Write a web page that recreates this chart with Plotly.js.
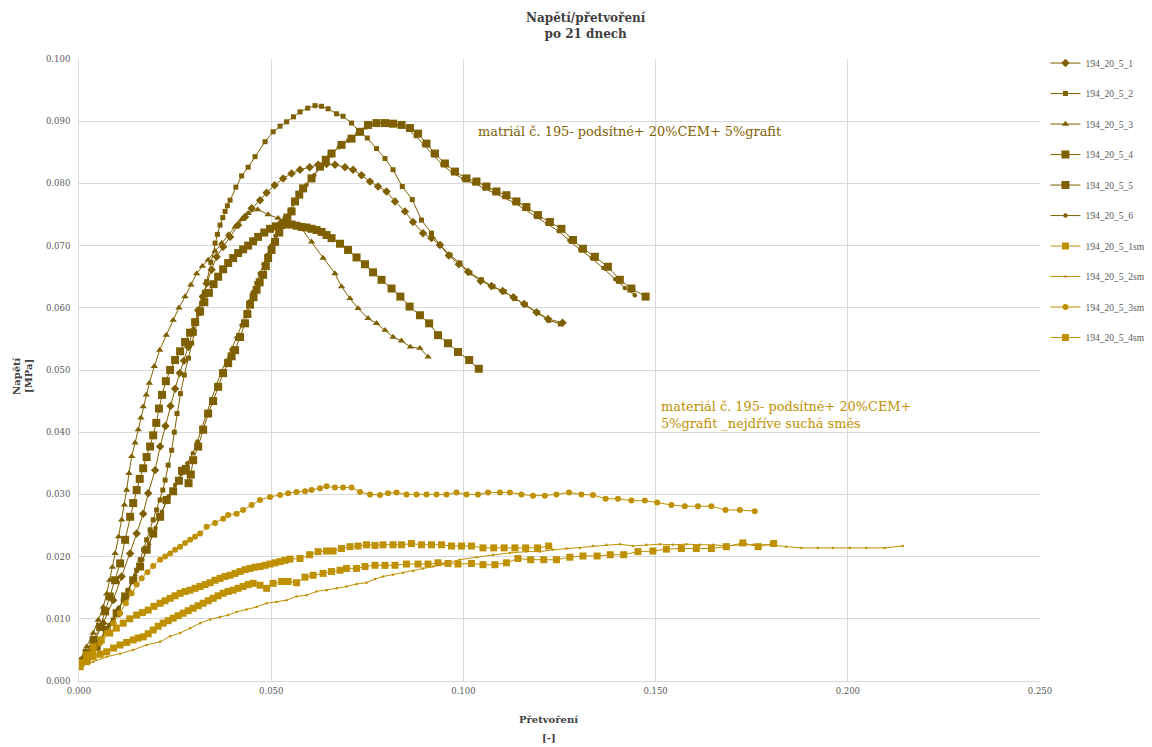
<!DOCTYPE html>
<html>
<head>
<meta charset="utf-8">
<script src="https://cdn.plot.ly/plotly-3.0.1.min.js"></script>
<style>html,body{margin:0;padding:0;background:#fff;}#chart{width:1152px;height:747px;}</style>
</head>
<body>
<div id="chart"></div>
<script>
// ---- data (strain [-], stress [MPa]) ----
const seriesNames = ['194_20_5_1','194_20_5_2','194_20_5_3','194_20_5_4','194_20_5_5','194_20_5_6',
                     '194_20_5_1sm','194_20_5_2sm','194_20_5_3sm','194_20_5_4sm'];

const s1 = [[0.0007,0.0034],[0.0033,0.0055],[0.0063,0.0093],[0.0089,0.0130],[0.0111,0.0168],[0.0133,0.0205],[0.0150,0.0237],[0.0167,0.0269],[0.0180,0.0302],[0.0198,0.0339],
[0.0211,0.0377],[0.0225,0.0410],[0.0238,0.0442],[0.0250,0.0470],[0.0262,0.0495],[0.0273,0.0515],[0.0284,0.0537],[0.0297,0.0564],[0.0310,0.0596],[0.0322,0.0618],
[0.0332,0.0639],[0.0345,0.0661],[0.0358,0.0682],[0.0375,0.0698],[0.0393,0.0714],[0.0414,0.0733],[0.0432,0.0746],[0.0449,0.0760],[0.0471,0.0773],[0.0488,0.0785],
[0.0509,0.0797],[0.0531,0.0808],[0.0553,0.0816],[0.0575,0.0822],[0.0600,0.0826],[0.0622,0.0830],[0.0644,0.0831],[0.0666,0.0830],[0.0692,0.0826],[0.0713,0.0822],
[0.0735,0.0813],[0.0757,0.0803],[0.0778,0.0795],[0.0800,0.0787],[0.0822,0.0771],[0.0848,0.0755],[0.0869,0.0738],[0.0895,0.0720],[0.0917,0.0712],[0.0939,0.0701],
[0.0962,0.0684],[0.0988,0.0670],[0.1012,0.0658],[0.1045,0.0643],[0.1073,0.0635],[0.1102,0.0627],[0.1130,0.0617],[0.1158,0.0606],[0.1190,0.0593],[0.1220,0.0582],
[0.1258,0.0576]];

const s2 = [[0.0003,0.0030],[0.0020,0.0039],[0.0035,0.0052],[0.0055,0.0066],[0.0072,0.0082],[0.0089,0.0098],[0.0102,0.0114],[0.0115,0.0130],[0.0128,0.0146],[0.0141,0.0162],
[0.0150,0.0178],[0.0159,0.0195],[0.0168,0.0211],[0.0176,0.0227],[0.0185,0.0243],[0.0193,0.0259],[0.0202,0.0275],[0.0211,0.0291],[0.0218,0.0307],[0.0224,0.0323],
[0.0232,0.0347],[0.0241,0.0371],[0.0248,0.0400],[0.0255,0.0430],[0.0264,0.0462],[0.0274,0.0492],[0.0285,0.0519],[0.0293,0.0543],[0.0300,0.0559],[0.0306,0.0575],
[0.0313,0.0591],[0.0319,0.0607],[0.0326,0.0625],[0.0332,0.0642],[0.0343,0.0673],[0.0354,0.0704],[0.0360,0.0718],[0.0367,0.0733],[0.0374,0.0745],[0.0380,0.0755],
[0.0386,0.0764],[0.0393,0.0773],[0.0408,0.0794],[0.0423,0.0812],[0.0440,0.0826],[0.0458,0.0843],[0.0484,0.0867],[0.0505,0.0883],[0.0523,0.0892],[0.0540,0.0899],
[0.0558,0.0907],[0.0575,0.0915],[0.0595,0.0921],[0.0614,0.0925],[0.0631,0.0924],[0.0648,0.0920],[0.0670,0.0912],[0.0687,0.0908],[0.0709,0.0897],[0.0730,0.0883],
[0.0750,0.0873],[0.0774,0.0856],[0.0796,0.0840],[0.0817,0.0822],[0.0841,0.0795],[0.0867,0.0774],[0.0891,0.0741],[0.0917,0.0720],[0.0939,0.0701],[0.0965,0.0685],
[0.0991,0.0672],[0.1017,0.0656],[0.1047,0.0645],[0.1077,0.0634],[0.1106,0.0626],[0.1134,0.0615],[0.1161,0.0605],[0.1193,0.0592],[0.1222,0.0580],[0.1252,0.0574]];

const s3 = [[0.0003,0.0034],[0.0020,0.0055],[0.0037,0.0077],[0.0050,0.0098],[0.0063,0.0119],[0.0072,0.0140],[0.0080,0.0162],[0.0087,0.0183],[0.0094,0.0205],[0.0103,0.0232],
[0.0111,0.0259],[0.0118,0.0283],[0.0124,0.0307],[0.0130,0.0334],[0.0137,0.0361],[0.0146,0.0383],[0.0154,0.0404],[0.0161,0.0423],[0.0167,0.0441],[0.0175,0.0460],
[0.0183,0.0479],[0.0196,0.0506],[0.0210,0.0532],[0.0227,0.0556],[0.0245,0.0580],[0.0260,0.0600],[0.0276,0.0618],[0.0291,0.0637],[0.0306,0.0655],[0.0321,0.0667],
[0.0336,0.0677],[0.0354,0.0691],[0.0371,0.0704],[0.0389,0.0718],[0.0406,0.0730],[0.0423,0.0742],[0.0440,0.0752],[0.0465,0.0758],[0.0492,0.0750],[0.0518,0.0744],
[0.0544,0.0738],[0.0579,0.0727],[0.0605,0.0706],[0.0635,0.0680],[0.0666,0.0655],[0.0683,0.0634],[0.0705,0.0615],[0.0726,0.0599],[0.0752,0.0583],[0.0774,0.0575],
[0.0796,0.0564],[0.0817,0.0553],[0.0839,0.0547],[0.0862,0.0537],[0.0887,0.0535],[0.0908,0.0521]];

const s4 = [[0.0003,0.0029],[0.0020,0.0045],[0.0038,0.0066],[0.0055,0.0087],[0.0068,0.0112],[0.0080,0.0136],[0.0094,0.0162],[0.0107,0.0189],[0.0120,0.0227],[0.0133,0.0264],
[0.0141,0.0286],[0.0150,0.0307],[0.0158,0.0325],[0.0167,0.0342],[0.0176,0.0360],[0.0185,0.0377],[0.0193,0.0395],[0.0201,0.0415],[0.0208,0.0438],[0.0216,0.0460],
[0.0226,0.0482],[0.0237,0.0500],[0.0250,0.0516],[0.0263,0.0530],[0.0276,0.0545],[0.0289,0.0560],[0.0302,0.0577],[0.0315,0.0594],[0.0326,0.0609],[0.0338,0.0624],
[0.0350,0.0638],[0.0362,0.0650],[0.0375,0.0662],[0.0388,0.0672],[0.0401,0.0680],[0.0414,0.0688],[0.0427,0.0694],[0.0440,0.0700],[0.0453,0.0707],[0.0466,0.0714],
[0.0482,0.0721],[0.0497,0.0727],[0.0512,0.0731],[0.0527,0.0733],[0.0540,0.0734],[0.0553,0.0734],[0.0566,0.0732],[0.0579,0.0730],[0.0592,0.0729],[0.0605,0.0727],
[0.0618,0.0725],[0.0631,0.0722],[0.0644,0.0717],[0.0657,0.0712],[0.0679,0.0703],[0.0700,0.0693],[0.0722,0.0681],[0.0744,0.0670],[0.0765,0.0657],[0.0787,0.0645],
[0.0813,0.0631],[0.0836,0.0618],[0.0860,0.0602],[0.0887,0.0588],[0.0911,0.0575],[0.0934,0.0556],[0.0960,0.0543],[0.0986,0.0529],[0.1015,0.0516],[0.1040,0.0502]];

const s5 = [[0.0003,0.0030],[0.0020,0.0034],[0.0046,0.0055],[0.0072,0.0082],[0.0098,0.0109],[0.0120,0.0136],[0.0141,0.0162],[0.0159,0.0184],[0.0176,0.0211],[0.0193,0.0237],
[0.0211,0.0264],[0.0228,0.0291],[0.0245,0.0305],[0.0260,0.0322],[0.0268,0.0338],[0.0278,0.0341],[0.0285,0.0318],[0.0291,0.0332],[0.0297,0.0355],[0.0310,0.0377],
[0.0323,0.0404],[0.0336,0.0430],[0.0349,0.0450],[0.0362,0.0473],[0.0375,0.0495],[0.0388,0.0511],[0.0397,0.0522],[0.0406,0.0532],[0.0419,0.0553],[0.0432,0.0575],
[0.0438,0.0590],[0.0445,0.0605],[0.0454,0.0617],[0.0462,0.0629],[0.0470,0.0641],[0.0479,0.0653],[0.0486,0.0667],[0.0492,0.0680],[0.0501,0.0693],[0.0510,0.0706],
[0.0521,0.0721],[0.0531,0.0736],[0.0542,0.0745],[0.0553,0.0755],[0.0562,0.0771],[0.0573,0.0782],[0.0583,0.0792],[0.0605,0.0808],[0.0627,0.0827],[0.0642,0.0838],
[0.0657,0.0848],[0.0683,0.0862],[0.0709,0.0872],[0.0731,0.0883],[0.0752,0.0894],[0.0774,0.0897],[0.0796,0.0897],[0.0817,0.0896],[0.0839,0.0894],[0.0861,0.0889],
[0.0882,0.0880],[0.0904,0.0864],[0.0926,0.0848],[0.0952,0.0832],[0.0978,0.0819],[0.1008,0.0808],[0.1034,0.0803],[0.1060,0.0795],[0.1086,0.0787],[0.1112,0.0781],
[0.1138,0.0771],[0.1164,0.0762],[0.1194,0.0749],[0.1225,0.0738],[0.1255,0.0727],[0.1285,0.0709],[0.1311,0.0695],[0.1342,0.0682],[0.1376,0.0666],[0.1407,0.0645],
[0.1437,0.0631],[0.1474,0.0618]];

const s6 = [[0.0003,0.0031],[0.0025,0.0040],[0.0050,0.0062],[0.0078,0.0090],[0.0104,0.0118],[0.0126,0.0145],[0.0146,0.0170],[0.0165,0.0195],[0.0182,0.0220],[0.0199,0.0246],
[0.0216,0.0272],[0.0233,0.0297],[0.0250,0.0315],[0.0266,0.0333],[0.0282,0.0350],[0.0296,0.0366],[0.0308,0.0385],[0.0319,0.0407],[0.0331,0.0428],[0.0344,0.0452],
[0.0357,0.0476],[0.0370,0.0497],[0.0383,0.0515],[0.0397,0.0533],[0.0410,0.0552],[0.0423,0.0572],[0.0434,0.0592],[0.0443,0.0610],[0.0452,0.0625],[0.0461,0.0640],
[0.0470,0.0655],[0.0480,0.0670],[0.0490,0.0685],[0.0500,0.0700],[0.0511,0.0716],[0.0522,0.0731],[0.0535,0.0744],[0.0548,0.0757],[0.0560,0.0770],[0.0575,0.0785],
[0.0592,0.0798],[0.0612,0.0813],[0.0632,0.0830],[0.0652,0.0845],[0.0676,0.0858],[0.0700,0.0869],[0.0724,0.0880],[0.0746,0.0890],[0.0768,0.0895],[0.0790,0.0897],
[0.0812,0.0896],[0.0834,0.0893],[0.0856,0.0887],[0.0876,0.0876],[0.0897,0.0862],[0.0920,0.0846],[0.0945,0.0830],[0.0972,0.0817],[0.1000,0.0807],[0.1028,0.0800],
[0.1055,0.0792],[0.1080,0.0785],[0.1106,0.0778],[0.1132,0.0769],[0.1158,0.0759],[0.1188,0.0747],[0.1218,0.0735],[0.1248,0.0723],[0.1276,0.0708],[0.1304,0.0693],
[0.1334,0.0680],[0.1364,0.0664],[0.1395,0.0646],[0.1420,0.0632],[0.1446,0.0620]];

const sm1 = [[0.0003,0.0029],[0.0020,0.0042],[0.0037,0.0055],[0.0058,0.0066],[0.0080,0.0077],[0.0097,0.0085],[0.0115,0.0093],[0.0132,0.0100],[0.0150,0.0106],[0.0165,0.0110],
[0.0180,0.0114],[0.0195,0.0120],[0.0211,0.0125],[0.0224,0.0129],[0.0237,0.0133],[0.0250,0.0137],[0.0263,0.0141],[0.0276,0.0144],[0.0289,0.0146],[0.0302,0.0149],
[0.0315,0.0152],[0.0328,0.0155],[0.0341,0.0158],[0.0354,0.0162],[0.0367,0.0165],[0.0380,0.0168],[0.0393,0.0170],[0.0406,0.0173],[0.0419,0.0176],[0.0432,0.0179],
[0.0445,0.0181],[0.0458,0.0183],[0.0471,0.0184],[0.0484,0.0186],[0.0497,0.0188],[0.0510,0.0190],[0.0523,0.0192],[0.0536,0.0194],[0.0549,0.0196],[0.0575,0.0197],
[0.0600,0.0203],[0.0622,0.0208],[0.0644,0.0209],[0.0661,0.0209],[0.0683,0.0213],[0.0705,0.0216],[0.0726,0.0217],[0.0748,0.0219],[0.0770,0.0218],[0.0791,0.0219],
[0.0817,0.0219],[0.0839,0.0219],[0.0865,0.0221],[0.0891,0.0219],[0.0917,0.0219],[0.0943,0.0219],[0.0969,0.0217],[0.0995,0.0217],[0.1021,0.0217],[0.1051,0.0214],
[0.1079,0.0214],[0.1106,0.0214],[0.1134,0.0214],[0.1162,0.0214],[0.1193,0.0214],[0.1222,0.0217]];

const sm2 = [[0.0003,0.0023],[0.0037,0.0031],[0.0072,0.0039],[0.0107,0.0044],[0.0141,0.0050],[0.0176,0.0058],[0.0211,0.0063],[0.0237,0.0072],[0.0263,0.0077],[0.0289,0.0085],
[0.0315,0.0093],[0.0341,0.0099],[0.0367,0.0103],[0.0388,0.0106],[0.0410,0.0111],[0.0436,0.0115],[0.0462,0.0119],[0.0488,0.0125],[0.0514,0.0127],[0.0540,0.0130],
[0.0566,0.0136],[0.0592,0.0138],[0.0618,0.0144],[0.0644,0.0146],[0.0670,0.0149],[0.0696,0.0152],[0.0722,0.0156],[0.0748,0.0158],[0.0770,0.0164],[0.0791,0.0168],
[0.0817,0.0171],[0.0843,0.0174],[0.0869,0.0177],[0.0895,0.0181],[0.0921,0.0184],[0.0947,0.0188],[0.0990,0.0195],[0.1034,0.0199],[0.1077,0.0203],[0.1121,0.0206],
[0.1164,0.0208],[0.1199,0.0208],[0.1233,0.0211],[0.1268,0.0213],[0.1303,0.0214],[0.1337,0.0217],[0.1372,0.0219],[0.1407,0.0220],[0.1441,0.0217],[0.1476,0.0219],
[0.1511,0.0220],[0.1545,0.0219],[0.1580,0.0220],[0.1615,0.0219],[0.1650,0.0219],[0.1684,0.0217],[0.1719,0.0219],[0.1754,0.0219],[0.1797,0.0219],[0.1840,0.0216],
[0.1879,0.0214],[0.1922,0.0214],[0.1961,0.0214],[0.2005,0.0214],[0.2048,0.0214],[0.2096,0.0214],[0.2143,0.0217]];

const sm3 = [[0.0003,0.0030],[0.0020,0.0037],[0.0037,0.0045],[0.0055,0.0061],[0.0072,0.0077],[0.0090,0.0093],[0.0107,0.0109],[0.0122,0.0125],[0.0137,0.0141],[0.0150,0.0155],
[0.0163,0.0165],[0.0178,0.0175],[0.0193,0.0185],[0.0211,0.0195],[0.0224,0.0200],[0.0237,0.0205],[0.0250,0.0211],[0.0263,0.0216],[0.0276,0.0222],[0.0289,0.0227],
[0.0302,0.0232],[0.0315,0.0237],[0.0332,0.0248],[0.0354,0.0254],[0.0375,0.0261],[0.0388,0.0267],[0.0410,0.0269],[0.0427,0.0275],[0.0449,0.0283],[0.0471,0.0291],
[0.0497,0.0296],[0.0523,0.0299],[0.0544,0.0302],[0.0566,0.0304],[0.0588,0.0305],[0.0605,0.0307],[0.0627,0.0310],[0.0644,0.0313],[0.0666,0.0311],[0.0687,0.0311],
[0.0709,0.0311],[0.0731,0.0304],[0.0757,0.0300],[0.0783,0.0299],[0.0804,0.0302],[0.0826,0.0303],[0.0852,0.0300],[0.0878,0.0300],[0.0904,0.0300],[0.0930,0.0300],
[0.0956,0.0300],[0.0982,0.0303],[0.1008,0.0300],[0.1038,0.0300],[0.1064,0.0303],[0.1095,0.0303],[0.1121,0.0303],[0.1151,0.0300],[0.1181,0.0298],[0.1212,0.0298],
[0.1242,0.0300],[0.1275,0.0303],[0.1307,0.0300],[0.1337,0.0299],[0.1370,0.0293],[0.1402,0.0293],[0.1437,0.0290],[0.1472,0.0290],[0.1504,0.0287],[0.1541,0.0283],
[0.1576,0.0281],[0.1610,0.0281],[0.1645,0.0281],[0.1682,0.0275],[0.1719,0.0275],[0.1758,0.0273]];

const sm4 = [[0.0003,0.0023],[0.0020,0.0031],[0.0037,0.0039],[0.0055,0.0043],[0.0072,0.0047],[0.0090,0.0053],[0.0107,0.0058],[0.0124,0.0062],[0.0141,0.0066],[0.0154,0.0069],
[0.0167,0.0071],[0.0180,0.0076],[0.0193,0.0082],[0.0206,0.0088],[0.0219,0.0093],[0.0232,0.0097],[0.0245,0.0101],[0.0258,0.0105],[0.0271,0.0109],[0.0284,0.0113],
[0.0297,0.0117],[0.0310,0.0121],[0.0323,0.0125],[0.0336,0.0129],[0.0349,0.0133],[0.0362,0.0137],[0.0375,0.0141],[0.0388,0.0144],[0.0401,0.0146],[0.0414,0.0149],
[0.0427,0.0152],[0.0440,0.0155],[0.0453,0.0157],[0.0471,0.0154],[0.0488,0.0149],[0.0505,0.0157],[0.0527,0.0160],[0.0544,0.0160],[0.0566,0.0158],[0.0588,0.0167],
[0.0609,0.0170],[0.0635,0.0173],[0.0657,0.0176],[0.0679,0.0178],[0.0696,0.0181],[0.0722,0.0181],[0.0744,0.0184],[0.0770,0.0186],[0.0796,0.0186],[0.0822,0.0186],
[0.0852,0.0188],[0.0882,0.0188],[0.0908,0.0188],[0.0934,0.0190],[0.0960,0.0189],[0.0986,0.0188],[0.1021,0.0189],[0.1051,0.0187],[0.1082,0.0187],[0.1112,0.0190],
[0.1142,0.0197],[0.1175,0.0195],[0.1209,0.0195],[0.1242,0.0195],[0.1277,0.0199],[0.1311,0.0201],[0.1348,0.0201],[0.1382,0.0203],[0.1417,0.0203],[0.1454,0.0208],
[0.1493,0.0209],[0.1528,0.0212],[0.1567,0.0213],[0.1606,0.0213],[0.1645,0.0213],[0.1684,0.0216],[0.1727,0.0222],[0.1767,0.0216],[0.1807,0.0221]];

const allSeries = [s1, s2, s3, s4, s5, s6, sm1, sm2, sm3, sm4];

// ---- styling ----
const DARK = '#7f6000', LIGHT = '#bf9000';
const FONT = 'DejaVu Serif, Liberation Serif, serif';
const LEGEND_FONT = 'Liberation Serif, DejaVu Serif, serif';
const styles = [
  {c: DARK,  sym: 'diamond',     sz: 6.5, lw: 1},
  {c: DARK,  sym: 'square',      sz: 5,   lw: 1},
  {c: DARK,  sym: 'triangle-up', sz: 6.5, lw: 1},
  {c: DARK,  sym: 'square',      sz: 8,   lw: 1},
  {c: DARK,  sym: 'square',      sz: 8,   lw: 1},
  {c: DARK,  sym: 'circle',      sz: 4.5, lw: 1},
  {c: LIGHT, sym: 'square',      sz: 7,   lw: 1},
  {c: LIGHT, sym: 'circle',      sz: 2.5, lw: 1},
  {c: LIGHT, sym: 'circle',      sz: 6,   lw: 1},
  {c: LIGHT, sym: 'square',      sz: 7,   lw: 1}
];

const traces = allSeries.map((pts, i) => ({
  type: 'scatter',
  mode: 'lines+markers',
  name: seriesNames[i],
  legendgroup: 'g' + i,
  x: pts.map(p => p[0]),
  y: pts.map(p => p[1]),
  line: {color: styles[i].c, width: styles[i].lw},
  marker: {color: styles[i].c, symbol: styles[i].sym, size: styles[i].sz, line: {width: 0}}
}));

const axisCommon = {
  showgrid: true, gridcolor: '#d9d9d9', gridwidth: 1,
  zeroline: false, showline: true, linecolor: '#d9d9d9', linewidth: 1,
  ticks: '', tickformat: '.3f',
  tickfont: {family: FONT, size: 8.5, color: '#595959'}
};

const TITLE_COLOR = '#404040';
const layout = {
  width: 1152, height: 747,
  paper_bgcolor: '#ffffff', plot_bgcolor: '#ffffff',
  margin: {l: 79, r: 112, t: 59, b: 66},
  font: {family: FONT, color: '#595959'},
  showlegend: true,
  xaxis: Object.assign({}, axisCommon, {
    range: [0, 0.25], dtick: 0.05, tick0: 0, ticklabelstandoff: 2
  }),
  yaxis: Object.assign({}, axisCommon, {
    range: [0, 0.1], dtick: 0.01, tick0: 0, ticklabelstandoff: 6
  }),
  legend: {
    xref: 'container', yref: 'container',
    x: 0.9075, xanchor: 'left', y: 0.935, yanchor: 'top',
    font: {family: LEGEND_FONT, size: 9.5, color: '#595959'},
    tracegroupgap: 11.5, itemwidth: 30, bgcolor: 'rgba(0,0,0,0)'
  },
  annotations: [
    // chart title
    {text: '<b>Napětí/přetvoření</b><br><b>po 21 dnech</b>', xref: 'paper', yref: 'paper',
     x: 0.5276, y: 1.0535, xanchor: 'center', yanchor: 'middle', showarrow: false,
     font: {family: FONT, size: 12, color: TITLE_COLOR}},
    // x axis title
    {text: '<b>Přetvoření</b>', xref: 'paper', yref: 'paper', x: 0.489, y: -0.0611,
     xanchor: 'center', yanchor: 'middle', showarrow: false,
     font: {family: FONT, size: 10, color: TITLE_COLOR}},
    {text: '<b>[-]</b>', xref: 'paper', yref: 'paper', x: 0.489, y: -0.0916,
     xanchor: 'center', yanchor: 'middle', showarrow: false,
     font: {family: FONT, size: 10, color: TITLE_COLOR}},
    // y axis title
    {text: '<b>Napětí</b>', xref: 'paper', yref: 'paper', x: -0.0645, y: 0.4904,
     xanchor: 'center', yanchor: 'middle', textangle: -90, showarrow: false,
     font: {family: FONT, size: 10, color: TITLE_COLOR}},
    {text: '<b>[MPa]</b>', xref: 'paper', yref: 'paper', x: -0.052, y: 0.4904,
     xanchor: 'center', yanchor: 'middle', textangle: -90, showarrow: false,
     font: {family: FONT, size: 10, color: TITLE_COLOR}},
    // in-plot labels
    {text: 'matriál č. 195- podsítné+ 20%CEM+ 5%grafit', xref: 'paper', yref: 'paper',
     x: 0.413, y: 0.883, xanchor: 'left', yanchor: 'middle', showarrow: false,
     font: {family: FONT, size: 12.9, color: DARK}},
    {text: 'materiál č. 195- podsítné+ 20%CEM+<br>5%grafit _nejdříve suchá směs', xref: 'paper', yref: 'paper',
     x: 0.604, y: 0.428, xanchor: 'left', yanchor: 'middle', align: 'left', showarrow: false,
     font: {family: FONT, size: 12.9, color: LIGHT}}
  ]
};

Plotly.newPlot('chart', traces, layout, {displayModeBar: false, responsive: false});
</script>
</body>
</html>
